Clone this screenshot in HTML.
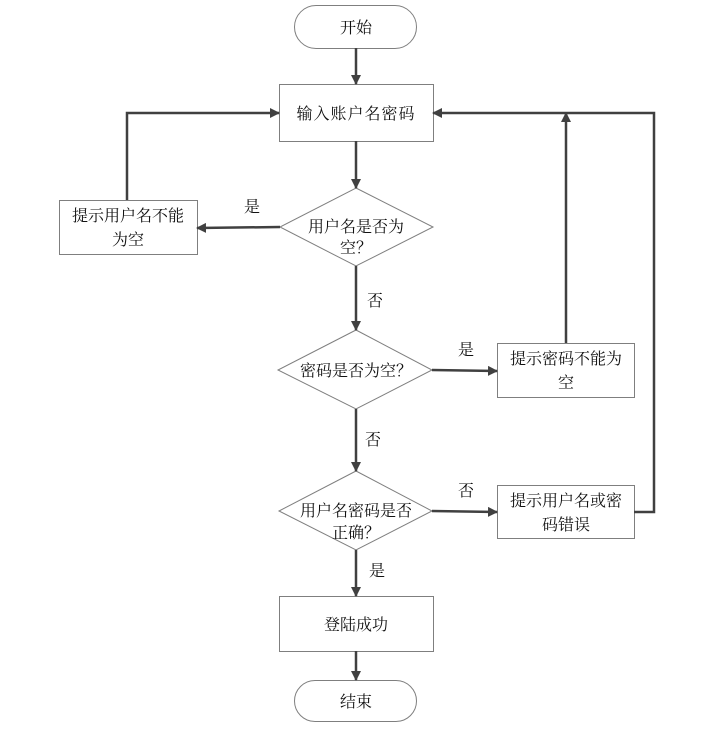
<!DOCTYPE html>
<html><head><meta charset="utf-8"><style>
html,body{margin:0;padding:0;background:#fff;}
svg text{font-family:"Liberation Serif","Noto Serif CJK SC",serif;font-size:16px;fill:#111;}
</style></head><body>
<svg width="721" height="725" xmlns="http://www.w3.org/2000/svg">
<defs><marker id="a" markerWidth="10" markerHeight="10" refX="9" refY="5" orient="auto" markerUnits="userSpaceOnUse"><path d="M0,0 L10,5 L0,10 z" fill="#404040"/></marker></defs>
<g fill="#fff" stroke="#7f7f7f" stroke-width="1">
<rect x="294.5" y="5.5" width="122" height="43" rx="21.5"/>
<rect x="279.5" y="84.5" width="154" height="57"/>
<polygon points="356,188 433,227 356,266 280,227"/>
<rect x="59.5" y="200.5" width="138" height="54"/>
<polygon points="356,330 432,370 356,409 278,370"/>
<rect x="497.5" y="343.5" width="137" height="54"/>
<polygon points="356,471 432,511 356,550 279,511"/>
<rect x="497.5" y="485.5" width="137" height="53"/>
<rect x="279.5" y="596.5" width="154" height="55"/>
<rect x="294.5" y="680.5" width="122" height="41" rx="20.5"/>
</g>
<g stroke="#404040" stroke-width="2.5" fill="none" marker-end="url(#a)">
<line x1="356" y1="48" x2="356" y2="84"/>
<line x1="356" y1="141" x2="356" y2="188"/>
<line x1="280" y1="227" x2="197" y2="228"/>
<polyline points="127,200 127,113 279,113"/>
<line x1="356" y1="266" x2="356" y2="330"/>
<line x1="432" y1="370" x2="497" y2="371"/>
<line x1="566" y1="343" x2="566" y2="113"/>
<line x1="356" y1="409" x2="356" y2="471"/>
<line x1="432" y1="511" x2="497" y2="512"/>
<polyline points="634,512 654,512 654,113 433,113"/>
<line x1="356" y1="550" x2="356" y2="596"/>
<line x1="356" y1="651" x2="356" y2="680"/>
</g>
<g text-anchor="middle">
<text x="356" y="33">开始</text>
<text x="356" y="119" letter-spacing="1">输入账户名密码</text>
<text x="356" y="232">用户名是否为</text>
<text x="356" y="253">空？</text>
<text x="128" y="221">提示用户名不能</text>
<text x="128" y="245">为空</text>
<text x="252" y="212">是</text>
<text x="375" y="306">否</text>
<text x="356" y="376">密码是否为空？</text>
<text x="466" y="355">是</text>
<text x="566" y="364">提示密码不能为</text>
<text x="566" y="388">空</text>
<text x="373" y="445">否</text>
<text x="356" y="516">用户名密码是否</text>
<text x="356" y="538">正确？</text>
<text x="466" y="496">否</text>
<text x="566" y="506">提示用户名或密</text>
<text x="566" y="530">码错误</text>
<text x="377" y="576">是</text>
<text x="356" y="630">登陆成功</text>
<text x="356" y="707">结束</text>
</g>
</svg>
</body></html>
